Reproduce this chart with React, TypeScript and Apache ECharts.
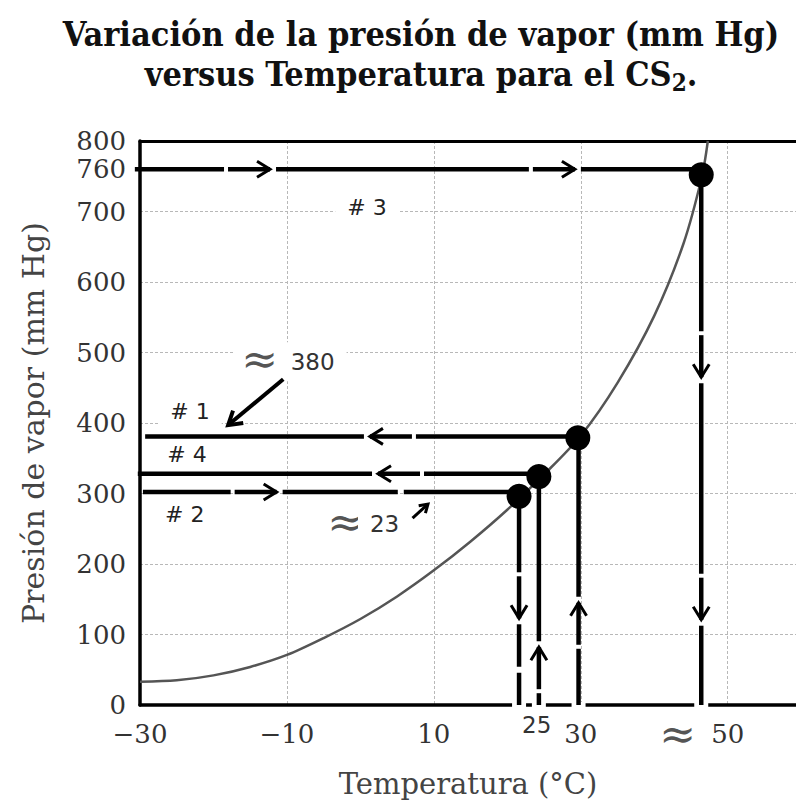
import React, { useEffect, useRef } from 'react';
import * as echarts from 'echarts';

// ---------- data ----------
const titleLine1 = 'Variación de la presión de vapor (mm Hg)';
const titleLine2 = 'versus Temperatura para el CS';
const yName = 'Presión de vapor (mm Hg)';
const xName = 'Temperatura (°C)';

const xTickValues = [-30, -10, 10, 30, 50];
const yTickValues = [0, 100, 200, 300, 400, 500, 600, 700, 800];
const yLabelValues = [0, 100, 200, 300, 400, 500, 600, 700, 760, 800];

// vapour-pressure curve of CS2 (temperature °C, pressure mmHg)
const curveTemps = [-30, -25, -20, -15, -10, -5, 0, 5, 10, 15, 20, 25, 30, 35, 40, 44, 46.5, 47.3];
const curvePressures = [33, 35, 42, 54, 71, 95, 122, 154, 191, 232, 277, 327, 382, 457, 552, 655, 750, 800];

// marked points on the curve
const pointTemps = [21.6, 24.3, 29.6, 46.4];
const pointPressures = [296, 324, 379, 752];

// guide lines with arrows: start, end, arrow tips, small breaks
const guideFrom: number[][] = [[-30.7, 760], [46.4, 760], [29.6, 381], [29.7, 0], [24.3, 328], [24.3, 0], [-29.6, 302], [21.6, 296]];
const guideTo: number[][] = [[46.4, 760], [46.4, 0], [-29.3, 381], [29.7, 379], [-30.3, 328], [24.3, 324], [21.6, 302], [21.6, 0]];
const guideTips: number[][][] = [
  [[-12.3, 760], [29.2, 760]],
  [[46.4, 465], [46.4, 121]],
  [[1.3, 381]],
  [[29.7, 145]],
  [[2.4, 328]],
  [[24.3, 82]],
  [[-11.4, 302]],
  [[21.6, 123]],
];
const guideBreaks: number[][][] = [[], [], [], [], [], [], [[5.5, 302]], [[21.6, 50]]];

// annotation pointers
const pointerFrom: number[][] = [[-10.5, 462], [7.1, 265]];
const pointerTo: number[][] = [[-18.0, 397], [9.2, 285]];

// annotation texts
const noteTexts = ['# 3', '# 1', '# 4', '# 2', '≈', '380', '≈', '23', '25', '≈'];
const notePos: number[][] = [[0.9, 706], [-23.2, 416], [-23.6, 355], [-23.9, 270], [-13.7, 492], [-6.5, 487], [-2.0, 260], [3.3, 257], [24.0, -28], [43.2, -40]];
const noteKinds = ['hash', 'hash', 'hash', 'hash', 'approx', 'num', 'approx', 'num', 'num', 'approx'];

// ---------- styles ----------
const SERIF = '"DejaVu Serif", "Liberation Serif", serif';
const SANS = '"DejaVu Sans", Verdana, sans-serif';
const TITLE_FONT = '"DejaVu Serif Condensed", "DejaVu Serif", serif';
const noteStyle: Record<string, any> = {
  hash: { fontFamily: SANS, fontSize: 22, fill: '#222', padding: [6, 12] },
  num: { fontFamily: SANS, fontSize: 23, fill: '#333', padding: [8, 12] },
  approx: { fontFamily: SERIF, fontSize: 44, fill: '#555', padding: [0, 8] },
};

function renderGuide(params: any, api: any) {
  const i = params.dataIndex;
  const a = api.coord(guideFrom[i]);
  const b = api.coord(guideTo[i]);
  const dx = b[0] - a[0];
  const dy = b[1] - a[1];
  const L = Math.hypot(dx, dy);
  const ux = dx / L;
  const uy = dy / L;
  const proj = (p: number[]) => {
    const c = api.coord(p);
    return (c[0] - a[0]) * ux + (c[1] - a[1]) * uy;
  };
  const tips = guideTips[i].map(proj);
  const cuts: number[][] = [];
  tips.forEach((s) => {
    cuts.push([s - 46, s - 42]);
    cuts.push([s, s + 6]);
  });
  guideBreaks[i].map(proj).forEach((s) => cuts.push([s - 3, s + 3]));
  cuts.sort((p, q) => p[0] - q[0]);
  const segs: number[][] = [];
  let cur = 0;
  for (const [c0, c1] of cuts) {
    if (c0 > cur) segs.push([cur, c0]);
    cur = Math.max(cur, c1);
  }
  if (cur < L) segs.push([cur, L]);
  const children: any[] = [];
  // white cut where a vertical guide meets the x axis
  [guideFrom[i], guideTo[i]].forEach((p) => {
    if (p[1] === 0) {
      const c = api.coord(p);
      children.push({ type: 'rect', shape: { x: c[0] - 7, y: c[1] - 3, width: 14, height: 6 }, style: { fill: '#fff' } });
    }
  });
  segs.forEach(([s0, s1]) => {
    children.push({
      type: 'line',
      shape: { x1: a[0] + ux * s0, y1: a[1] + uy * s0, x2: a[0] + ux * s1, y2: a[1] + uy * s1 },
      style: { stroke: '#000', lineWidth: 4.5 },
    });
  });
  const nx = -uy;
  const ny = ux;
  tips.forEach((s) => {
    const tx = a[0] + ux * s;
    const ty = a[1] + uy * s;
    children.push({
      type: 'polyline',
      shape: { points: [[tx - ux * 13 + nx * 8, ty - uy * 13 + ny * 8], [tx, ty], [tx - ux * 13 - nx * 8, ty - uy * 13 - ny * 8]] },
      style: { stroke: '#000', lineWidth: 3, fill: 'none' },
    });
  });
  return { type: 'group', children };
}

function renderPointer(params: any, api: any) {
  const i = params.dataIndex;
  const a = api.coord(pointerFrom[i]);
  const b = api.coord(pointerTo[i]);
  const dx = b[0] - a[0];
  const dy = b[1] - a[1];
  const L = Math.hypot(dx, dy);
  const ux = dx / L;
  const uy = dy / L;
  const nx = -uy;
  const ny = ux;
  const big = L > 40;
  const back = big ? 13 : 8;
  const side = big ? 8 : 5;
  const w = big ? 4 : 3;
  return {
    type: 'group',
    children: [
      { type: 'line', shape: { x1: a[0], y1: a[1], x2: b[0] - ux * 2, y2: b[1] - uy * 2 }, style: { stroke: '#000', lineWidth: w } },
      {
        type: 'polyline',
        shape: { points: [[b[0] - ux * back + nx * side, b[1] - uy * back + ny * side], [b[0], b[1]], [b[0] - ux * back - nx * side, b[1] - uy * back - ny * side]] },
        style: { stroke: '#000', lineWidth: w, fill: 'none' },
      },
    ],
  };
}

function renderNote(params: any, api: any) {
  const i = params.dataIndex;
  const c = api.coord(notePos[i]);
  const st = noteStyle[noteKinds[i]];
  return {
    type: 'text',
    x: c[0],
    y: c[1],
    style: {
      text: noteTexts[i],
      fontFamily: st.fontFamily,
      fontSize: st.fontSize,
      fill: st.fill,
      align: 'center',
      verticalAlign: 'middle',
      backgroundColor: notePos[i][1] < 0 ? 'transparent' : '#fff',
      padding: st.padding,
    },
  };
}

const fmtX = (v: number) => (v < 0 ? '\u2212' + Math.abs(v) : String(v));

export default function App() {
  const ref = useRef<HTMLDivElement>(null);
  useEffect(() => {
    document.body.style.margin = '0';
    const chart = echarts.init(ref.current!, null, { renderer: 'svg' });
    const option: any = {
      animation: false,
      backgroundColor: '#fff',
      title: {
        text: titleLine1 + '\n' + titleLine2 + '{s|2}.',
        left: 421,
        top: 14,
        padding: 0,
        textAlign: 'center',
        textStyle: {
          fontFamily: TITLE_FONT,
          fontWeight: 'bold',
          fontSize: 34,
          lineHeight: 40,
          color: '#111',
          rich: {
            s: {
              fontFamily: TITLE_FONT,
              fontWeight: 'bold',
              fontSize: 24,
              lineHeight: 39,
              verticalAlign: 'bottom',
              color: '#111',
            },
          },
        },
      },
      grid: { left: 140, right: 0, top: 141, bottom: 100, containLabel: false },
      xAxis: [
        {
          type: 'value',
          min: -30,
          max: 59.3,
          interval: 20,
          name: xName,
          nameLocation: 'middle',
          nameGap: 64,
          nameTextStyle: { fontFamily: SERIF, fontSize: 29, color: '#444' },
          axisLine: { show: true, onZero: false, lineStyle: { color: '#000', width: 3.5 } },
          axisTick: { show: false, customValues: xTickValues },
          axisLabel: { customValues: xTickValues, formatter: fmtX, fontFamily: SERIF, fontSize: 26, color: '#333', margin: 16 },
          splitLine: { show: true, lineStyle: { color: '#b8b8b8', width: 1, type: [3, 2] } },
        },
        {
          type: 'value',
          position: 'top',
          min: -30,
          max: 59.3,
          axisLine: { show: true, onZero: false, lineStyle: { color: '#000', width: 3 } },
          axisTick: { show: false },
          axisLabel: { show: false },
          splitLine: { show: false },
        },
      ],
      yAxis: {
        type: 'value',
        min: 0,
        max: 800,
        interval: 100,
        name: yName,
        nameLocation: 'middle',
        nameGap: 92,
        nameTextStyle: { fontFamily: SERIF, fontSize: 30, color: '#444' },
        axisLine: { show: true, onZero: false, lineStyle: { color: '#000', width: 3.5 } },
        axisTick: { show: false, customValues: yTickValues },
        axisLabel: { customValues: yLabelValues, fontFamily: SERIF, fontSize: 26, color: '#333', margin: 14 },
        splitLine: { show: true, lineStyle: { color: '#b8b8b8', width: 1, type: [3, 2] } },
      },
      series: [
        {
          type: 'custom',
          name: 'notes',
          z: 2,
          clip: false,
          renderItem: renderNote,
          data: notePos,
        },
        {
          type: 'line',
          name: 'CS2',
          z: 3,
          smooth: 0.3,
          showSymbol: false,
          lineStyle: { color: '#555', width: 2.5 },
          data: curveTemps.map((t, i) => [t, curvePressures[i]]),
        },
        {
          type: 'custom',
          name: 'guides',
          z: 4,
          clip: false,
          renderItem: renderGuide,
          data: guideFrom,
        },
        {
          type: 'custom',
          name: 'pointers',
          z: 4,
          clip: false,
          renderItem: renderPointer,
          data: pointerFrom,
        },
        {
          type: 'scatter',
          name: 'points',
          z: 5,
          symbolSize: 25,
          itemStyle: { color: '#000', opacity: 1 },
          data: pointTemps.map((t, i) => [t, pointPressures[i]]),
        },
      ],
    };
    chart.setOption(option);
    return () => chart.dispose();
  }, []);
  return <div ref={ref} style={{ width: 796, height: 805, position: 'absolute', left: 0, top: 0 }} />;
}
